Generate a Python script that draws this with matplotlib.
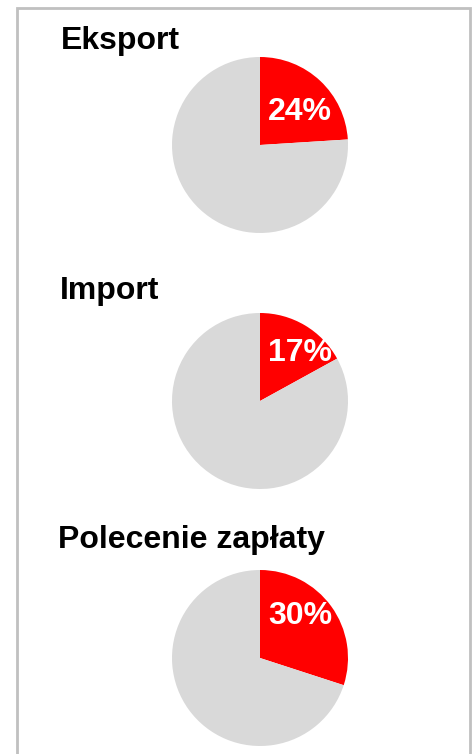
import matplotlib.pyplot as plt
from matplotlib.patches import Rectangle

plt.rcParams["font.family"] = ["Liberation Sans", "DejaVu Sans"]

titles = ["Eksport", "Import", "Polecenie zapłaty"]
shares = [24, 17, 30]
label_pos = [(0.455, 0.38), (0.455, 0.545), (0.455, 0.48)]

W, H = 474, 754
fig = plt.figure(figsize=(W / 100, H / 100), dpi=100)

# grey frame, open at the bottom
fig.patches.append(Rectangle((17 / W, -0.01), 453 / W, 1.01 - 8 / H,
                             transform=fig.transFigure, fill=False,
                             edgecolor="#C0C0C0", lw=2))

r = 88
cx = 260
centers = [145, 401, 658]
title_x = [61, 60, 58]
title_base = [49, 299, 548]
for i, (t, s) in enumerate(zip(titles, shares)):
    cy = centers[i]
    ax = fig.add_axes([(cx - r) / W, (H - cy - r) / H, 2 * r / W, 2 * r / H])
    ax.pie([s, 100 - s], colors=["#FF0000", "#D9D9D9"], startangle=90,
           counterclock=False, radius=1)
    ax.set_xlim(-1, 1)
    ax.set_ylim(-1, 1)
    ax.set_aspect("equal")
    ax.axis("off")
    lx, ly = label_pos[i]
    ax.text(lx, ly, f"{s}%", color="white", fontsize=23, fontweight="bold",
            ha="center", va="center")
    fig.text(title_x[i] / W, 1 - title_base[i] / H, t, fontsize=23,
             fontweight="bold", ha="left", va="baseline")

fig.savefig("out.png", dpi=100)
